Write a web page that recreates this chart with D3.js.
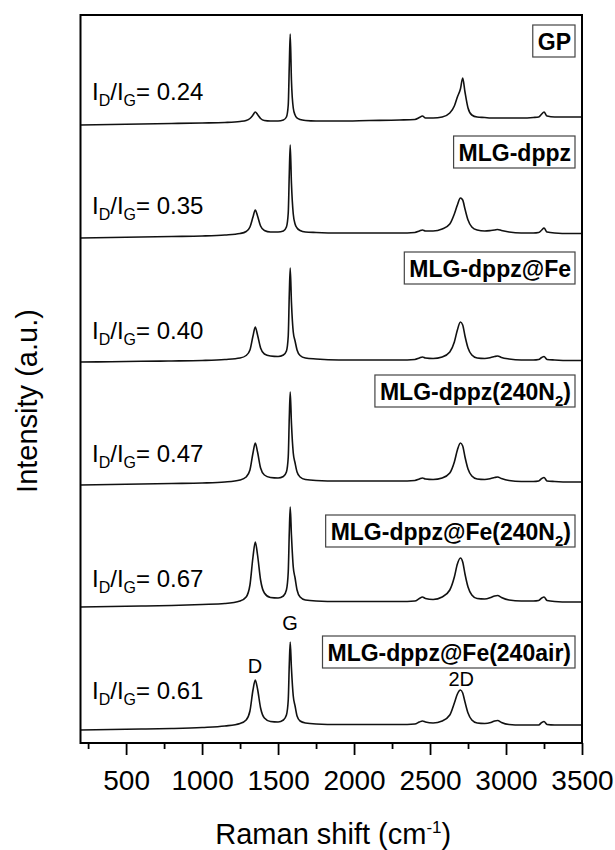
<!DOCTYPE html>
<html><head><meta charset="utf-8">
<script src="https://cdn.jsdelivr.net/npm/d3@7"></script>
<style>
body{margin:0;background:#fff}
svg{display:block}
text{font-family:"Liberation Sans",Arial,Helvetica,sans-serif;fill:#000}
</style>
</head><body>
<svg id="chart" width="615" height="850"></svg>
<script>
// ---------- DATA ----------
const wavenumbers = [200,400,600,800,1000,1150,1250,1290,1315,1335,1350,1365,1385,1410,1450,1500,1535,1555,1567,1574,1580,1588,1600,1612,1625,1645,1680,1750,1900,2100,2300,2400,2430,2450,2470,2520,2580,2630,2660,2680,2700,2715,2730,2750,2775,2810,2860,2900,2925,2945,2970,3020,3100,3180,3215,3235,3250,3270,3320,3420,3500];

const intensityGP = [0,0.5,1,1.5,2,2.5,3.5,4.5,6.5,10,13,10.5,6.5,4.5,4,4,5,8,20,60,91,45,17,10,7,5.5,4.5,4,4,4.5,5,5.5,7.5,9,7,7,8,12,19,28,36,47,33,17,10,8,7.5,7,7,7,7,7,7,7.5,8,11,13,9,8,8,8];
const intensityMLG = [0,0.5,1,1.5,2,3,4.5,6.5,11,21,28,22,12,7.5,6,6,7,11,25,65,93,55,24,14,10,7.5,6,5.5,5,5,5,5.5,7,8,7,7,9,14,24,33,40,38,29,18,11,8,7,7.5,8,8.5,7.5,6,5,5,5.5,8,10,6,5,4.5,4.5];
const intensityMLGFe = [0,0.3,0.7,1,1.5,2.5,4,6.5,12,26,35,27,14,8,6,5.5,7,11,26,68,94,60,30,21,12,6.5,4,3,2,2,2,2.5,4,5,4,3.5,5,10,20,32,40,37,26,14,7,4,3.5,4.5,5.5,6,4.5,3,2,2,2.5,4.5,5.5,2.5,2,1.5,1.5];
const intensityMLG240N2 = [0,0.5,1,1.5,2,3,5,8,15,32,42,33,17,10,7.5,7,8.5,13,28,68,93,62,32,22,13,8,5.5,4.5,4,4,4,4.5,6,7,6,5.5,7,12,23,35,42,39,28,16,9,6,5.5,6.5,7.5,8,6.5,4.5,3.5,3.5,4,6.5,7.5,4,3.5,3,3];
const intensityMLGFe240N2 = [0,0.5,1,1.5,2.5,3.5,6,10,22,50,65,52,27,14,9.5,9,11,17,35,75,100,72,40,29,17,10,7,6,5.5,5.5,5.5,6,8.5,10,8.5,7.5,10,17,30,43,49,45,33,20,12,8.5,8,9.5,11,11.5,9.5,7,6,6,6.5,9,10,6.5,5.5,5,5];
const intensityMLGFe240air = [0,0.5,1,1.5,2.5,4,6.5,10,19,40,50,41,22,12,8.5,8,10,15,30,66,88,62,34,24,14,9,7,6,5.5,5.5,5.5,6,8,9,8,7,9,15,27,36,40,37,28,17,10,7,6.5,7.5,9,9.5,7.5,5.5,5,5,5,7.5,8.5,5.5,5,5,5];

const seriesIntensities = [intensityGP, intensityMLG, intensityMLGFe, intensityMLG240N2, intensityMLGFe240N2, intensityMLGFe240air];
const stackOffsets = [618, 505, 381, 258, 136, 13];
const sampleNames = ["GP", "MLG-dppz", "MLG-dppz@Fe", "MLG-dppz(240N_2)", "MLG-dppz@Fe(240N_2)", "MLG-dppz@Fe(240air)"];
const ratioValues = ["0.24", "0.35", "0.40", "0.47", "0.67", "0.61"];
const peakNames = ["D", "G", "2D"];
const peakPositions = [1348, 1578, 2705];
const majorTicks = [500, 1000, 1500, 2000, 2500, 3000, 3500];
const minorTicks = [250, 750, 1250, 1750, 2250, 2750, 3250];
const xDomain = [200, 3500];
const yDomain = [0, 728];

// ---------- LAYOUT ----------
const plot = {left: 80.5, right: 582, top: 15, bottom: 743};
const ratioLabelY = [100, 214, 339, 462, 587, 699];
const ratioLabelX = 92;
const nameLabelY = [50, 161, 277, 400, 540, 661];
const nameLabelRight = 571;
const peakLabelY = [673, 630, 686];

const svg = d3.select("#chart");
const x = d3.scaleLinear().domain(xDomain).range([plot.left, plot.right]);
const y = d3.scaleLinear().domain(yDomain).range([plot.bottom, plot.top]);

svg.append("defs").append("clipPath").attr("id", "clip")
  .append("rect").attr("x", plot.left).attr("y", plot.top)
  .attr("width", plot.right - plot.left).attr("height", plot.bottom - plot.top);

// spectra
const g = svg.append("g").attr("clip-path", "url(#clip)");
seriesIntensities.forEach((vals, i) => {
  const pts = wavenumbers.map((w, j) => [w, vals[j] + stackOffsets[i]]);
  const line = d3.line().x(d => x(d[0])).y(d => y(d[1])).curve(d3.curveMonotoneX);
  g.append("path").attr("d", line(pts)).attr("fill", "none")
    .attr("stroke", "#111").attr("stroke-width", 1.6).attr("stroke-linejoin", "round");
});

// axes
const axMajor = svg.append("g").attr("transform", `translate(0,${plot.bottom})`)
  .call(d3.axisBottom(x).tickValues(majorTicks).tickSize(12).tickPadding(15).tickFormat(d3.format("d")));
axMajor.select(".domain").remove();
axMajor.selectAll("line").attr("stroke", "#000").attr("stroke-width", 1.8);
axMajor.selectAll("text").attr("font-size", 28).style("font-family", '"Liberation Sans",Arial,sans-serif');

const axMinor = svg.append("g").attr("transform", `translate(0,${plot.bottom})`)
  .call(d3.axisBottom(x).tickValues(minorTicks).tickSize(6).tickFormat(""));
axMinor.select(".domain").remove();
axMinor.selectAll("line").attr("stroke", "#000").attr("stroke-width", 1.8);

// frame
svg.append("rect").attr("x", plot.left).attr("y", plot.top)
  .attr("width", plot.right - plot.left).attr("height", plot.bottom - plot.top)
  .attr("fill", "none").attr("stroke", "#000").attr("stroke-width", 2);

// ratio labels
ratioValues.forEach((r, i) => {
  const t = svg.append("text").attr("x", ratioLabelX).attr("y", ratioLabelY[i]).attr("font-size", 24);
  t.append("tspan").text("I");
  t.append("tspan").attr("dy", 6).attr("font-size", 16).text("D");
  t.append("tspan").attr("dy", -6).text("/I");
  t.append("tspan").attr("dy", 6).attr("font-size", 16).text("G");
  t.append("tspan").attr("dy", -6).text("= " + r);
});

// sample name boxes
sampleNames.forEach((name, i) => {
  const parts = name.split("_");
  const t = svg.append("text").attr("x", nameLabelRight).attr("y", nameLabelY[i])
    .attr("text-anchor", "end").attr("font-size", 23).attr("font-weight", "bold");
  t.append("tspan").text(parts[0]);
  if (parts.length > 1) {
    t.append("tspan").attr("dy", 6).attr("font-size", 15).text(parts[1].charAt(0));
    t.append("tspan").attr("dy", -6).text(parts[1].slice(1));
  }
  const bb = t.node().getBBox();
  svg.insert("rect", () => t.node())
    .attr("x", bb.x - 5).attr("y", nameLabelY[i] - 25)
    .attr("width", bb.width + 9).attr("height", 32)
    .attr("fill", "#fff").attr("stroke", "#444").attr("stroke-width", 1.2);
});

// peak labels
peakNames.forEach((p, i) => {
  svg.append("text").attr("x", x(peakPositions[i])).attr("y", peakLabelY[i])
    .attr("text-anchor", "middle").attr("font-size", 20).text(p);
});

// axis titles
const xt = svg.append("text").attr("x", (plot.left + plot.right) / 2 + 2).attr("y", 844)
  .attr("text-anchor", "middle").attr("font-size", 29);
xt.append("tspan").text("Raman shift (cm");
xt.append("tspan").attr("dy", -11).attr("font-size", 17).text("-1");
xt.append("tspan").attr("dy", 11).text(")");

svg.append("text").attr("transform", "translate(37,401) rotate(-90)")
  .attr("text-anchor", "middle").attr("font-size", 29).text("Intensity (a.u.)");
</script>
</body></html>
